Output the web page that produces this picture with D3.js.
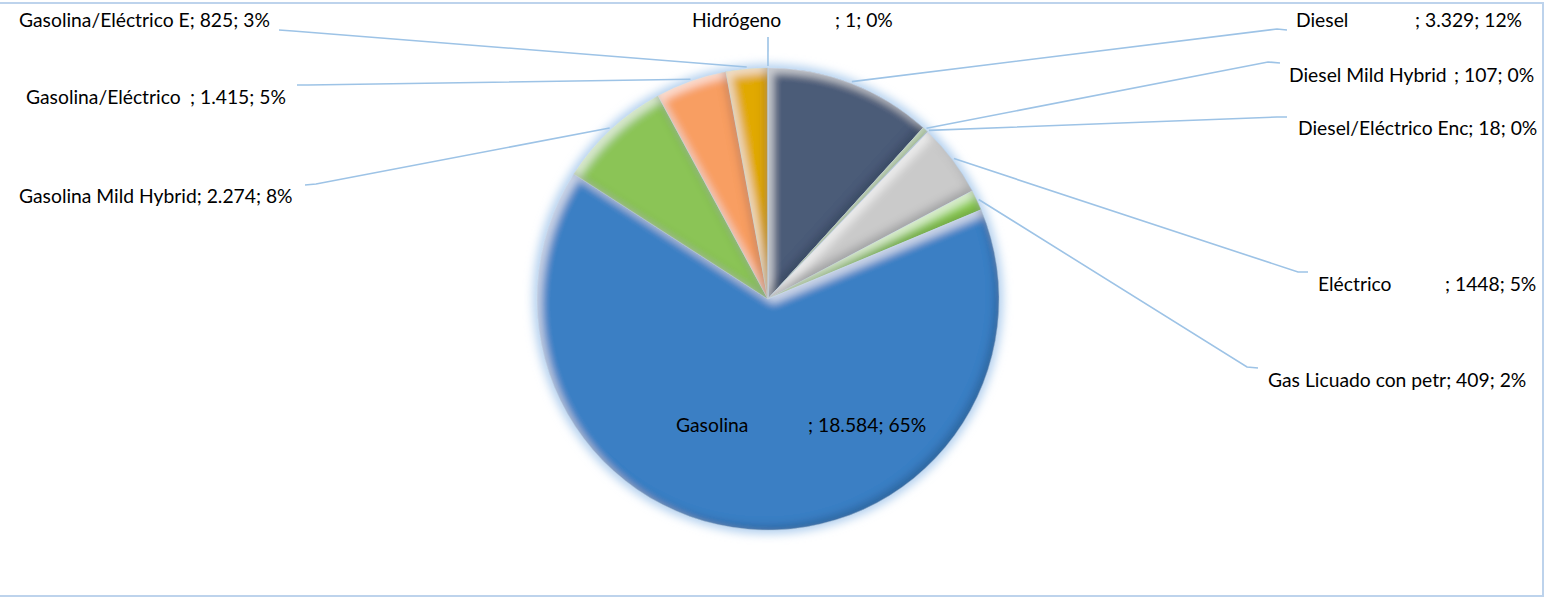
<!DOCTYPE html>
<html>
<head>
<meta charset="utf-8">
<script src="https://cdn.jsdelivr.net/npm/d3@7"></script>
<style>
  html, body { margin: 0; padding: 0; background: #fff; }
  svg { display: block; }
  text { font-family: Lato, "Open Sans", sans-serif; font-size: 19.3px; fill: #000; white-space: pre; }
</style>
</head>
<body>
<div id="chart"></div>
<script>
// data
const categories = ["Diesel", "Diesel Mild Hybrid", "Diesel/Eléctrico Enc", "Eléctrico",
  "Gas Licuado con petr", "Gasolina", "Gasolina Mild Hybrid", "Gasolina/Eléctrico",
  "Gasolina/Eléctrico E", "Hidrógeno"];
const values = [3329, 107, 18, 1448, 409, 18584, 2274, 1415, 825, 1];
const valueLabels = ["3.329", "107", "18", "1448", "409", "18.584", "2.274", "1.415", "825", "1"];
const pctLabels = ["12%", "0%", "0%", "5%", "2%", "65%", "8%", "5%", "3%", "0%"];
const colors = ["#4b5b78", "#8fcf5a", "#5a9bd5", "#cacaca", "#8fd14f", "#3a7fc4",
  "#8bc456", "#f89e62", "#e1a900", "#4a7fc0"];

// label placement (x, baseline, x of the "; ..." part when padded, leader elbow)
const labelLayout = [
  {x: 1296, y: 27, gapX: 1415, elbow: [[1287, 30], [1277, 29]]},
  {x: 1289, y: 82, gapX: 1454, elbow: [[1280, 63], [1268, 62]]},
  {x: 1298, y: 135, elbow: [[1287, 117], [1277, 117]]},
  {x: 1318, y: 291, gapX: 1445, elbow: [[1308, 272], [1298, 272]]},
  {x: 1268, y: 387, elbow: [[1258, 368], [1247, 367]]},
  {x: 676, y: 432, gapX: 808, elbow: null},
  {x: 19, y: 203, elbow: [[305, 185], [316, 184]]},
  {x: 26, y: 104, gapX: 190, elbow: [[297, 85], [308, 85]]},
  {x: 19, y: 27, elbow: [[279, 30], [293, 31]]},
  {x: 692, y: 27, gapX: 835, elbow: [[768, 37], [768, 37]]}
];

const width = 1551, height = 598;
const cx = 768, cy = 299, radius = 231;

const svg = d3.select("#chart").append("svg")
  .attr("width", width).attr("height", height)
  .attr("viewBox", [0, 0, width, height]);

const defs = svg.append("defs");

// soft outer glow behind the pie
defs.append("filter").attr("id", "glow")
  .attr("x", "-20%").attr("y", "-20%").attr("width", "140%").attr("height", "140%")
  .append("feGaussianBlur").attr("stdDeviation", 5);

// bevel: light top-left inner edge, dark bottom-right inner edge
const pad = radius + 20;
const bevel = defs.append("filter").attr("id", "bevel")
  .attr("filterUnits", "userSpaceOnUse")
  .attr("x", -pad).attr("y", -pad).attr("width", pad * 2).attr("height", pad * 2);
bevel.append("feGaussianBlur").attr("in", "SourceAlpha").attr("stdDeviation", 4).attr("result", "b");
bevel.append("feOffset").attr("in", "b").attr("dx", 5).attr("dy", 5).attr("result", "o1");
bevel.append("feComposite").attr("in", "SourceAlpha").attr("in2", "o1").attr("operator", "out").attr("result", "hiMask");
bevel.append("feFlood").attr("flood-color", "#ffffff").attr("flood-opacity", 0.6).attr("result", "white");
bevel.append("feComposite").attr("in", "white").attr("in2", "hiMask").attr("operator", "in").attr("result", "hi");
bevel.append("feOffset").attr("in", "b").attr("dx", -4).attr("dy", -4).attr("result", "o2");
bevel.append("feComposite").attr("in", "SourceAlpha").attr("in2", "o2").attr("operator", "out").attr("result", "loMask");
bevel.append("feFlood").attr("flood-color", "#0b1a33").attr("flood-opacity", 0.4).attr("result", "dark");
bevel.append("feComposite").attr("in", "dark").attr("in2", "loMask").attr("operator", "in").attr("result", "lo");
const merge = bevel.append("feMerge");
merge.append("feMergeNode").attr("in", "SourceGraphic");
merge.append("feMergeNode").attr("in", "hi");
merge.append("feMergeNode").attr("in", "lo");

// chart area border
svg.append("rect")
  .attr("x", -1).attr("y", 3).attr("width", 1544).attr("height", 593)
  .attr("fill", "none").attr("stroke", "#bdd3ec").attr("stroke-width", 2);

const data = categories.map((name, i) => ({
  name, value: values[i], valueLabel: valueLabels[i], pct: pctLabels[i],
  color: colors[i], layout: labelLayout[i]
}));

const pie = d3.pie().value(d => d.value).sort(null);
const arcs = pie(data);
const arc = d3.arc().innerRadius(0).outerRadius(radius);

const g = svg.append("g").attr("transform", `translate(${cx},${cy})`);

g.append("circle").attr("r", radius + 4)
  .attr("fill", "#b3d0ef").attr("filter", "url(#glow)");

g.selectAll("path.slice")
  .data(arcs)
  .enter()
  .append("path")
  .attr("class", "slice")
  .attr("d", arc)
  .attr("fill", d => d.data.color)
  .attr("stroke", "rgba(190,215,240,0.6)")
  .attr("stroke-width", 0.8)
  .attr("filter", "url(#bevel)");

// leader lines from the slice's outer edge to the label
const edgePoint = d => {
  const a = (d.startAngle + d.endAngle) / 2;
  return [cx + Math.sin(a) * (radius + 2), cy - Math.cos(a) * (radius + 2)];
};

svg.append("g")
  .selectAll("polyline")
  .data(arcs.filter(d => d.data.layout.elbow))
  .enter()
  .append("polyline")
  .attr("points", d => [...d.data.layout.elbow, edgePoint(d)].map(p => p.join(",")).join(" "))
  .attr("fill", "none")
  .attr("stroke", "#9dc3e6")
  .attr("stroke-width", 1.6);

// data labels
const labels = svg.append("g")
  .selectAll("text")
  .data(data)
  .enter()
  .append("text")
  .attr("x", d => d.layout.x)
  .attr("y", d => d.layout.y);

labels.each(function(d) {
  const t = d3.select(this);
  const rest = `; ${d.valueLabel}; ${d.pct}`;
  if (d.layout.gapX) {
    t.append("tspan").text(d.name);
    t.append("tspan").attr("x", d.layout.gapX).text(rest);
  } else {
    t.text(d.name + rest);
  }
});
</script>
</body>
</html>
